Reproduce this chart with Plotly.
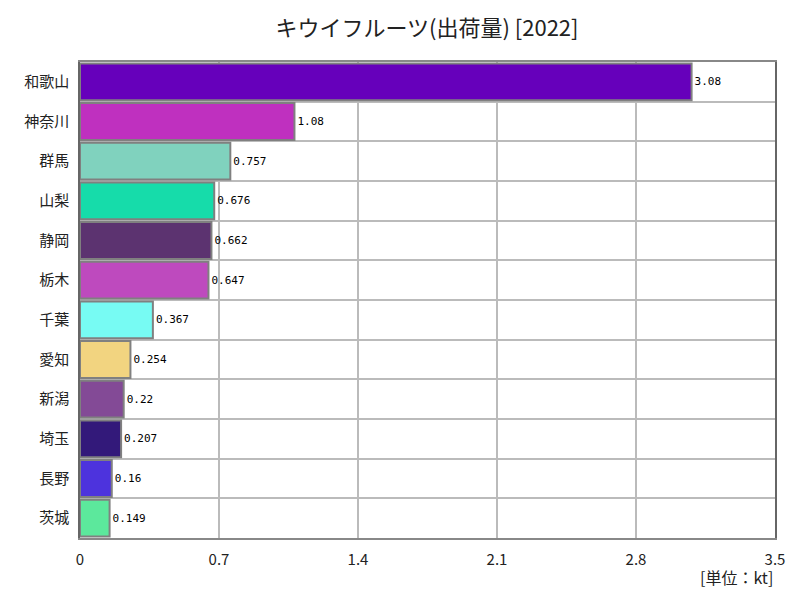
import plotly.graph_objects as go

prefectures = ["和歌山", "神奈川", "群馬", "山梨", "静岡", "栃木", "千葉", "愛知", "新潟", "埼玉", "長野", "茨城"]
values = [3.08, 1.08, 0.757, 0.676, 0.662, 0.647, 0.367, 0.254, 0.22, 0.207, 0.16, 0.149]
labels = ["3.08", "1.08", "0.757", "0.676", "0.662", "0.647", "0.367", "0.254", "0.22", "0.207", "0.16", "0.149"]
colors = ["#6600BB", "#BF30BF", "#80D2BE", "#16DCAA", "#5C3370", "#BE4ABE",
          "#77FBF3", "#F2D480", "#834A96", "#33197A", "#4D33DD", "#5CE89C"]
x_ticks = [0, 0.7, 1.4, 2.1, 2.8, 3.5]
x_ticktext = ["0", "0.7", "1.4", "2.1", "2.8", "3.5"]

fig = go.Figure(go.Bar(
    x=values, y=prefectures, orientation="h",
    marker=dict(color=colors, line=dict(color="#808080", width=2)),
    text=labels, textposition="outside", cliponaxis=False,
    textfont=dict(family="DejaVu Sans Mono", size=11, color="#000"),
))

fig.update_layout(
    width=792, height=592,
    margin=dict(l=72, r=25, t=54, b=62),
    paper_bgcolor="white", plot_bgcolor="white",
    bargap=0.07,
    showlegend=False,
    title=dict(text="キウイフルーツ(出荷量) [2022]", x=0.529, xanchor="center",
               y=0.966, yanchor="middle",
               font=dict(family="Noto Sans CJK JP", size=22, color="#222")),
    xaxis=dict(range=[0, 3.5], tickvals=x_ticks, ticktext=x_ticktext,
               showgrid=True, gridcolor="#BBBBBB", gridwidth=1.5,
               showline=True, linecolor="#888", linewidth=1.5, mirror=True,
               zeroline=False, ticks="", ticklabelstandoff=7,
               tickfont=dict(family="Noto Sans CJK JP", size=15, color="#222")),
    yaxis=dict(type="category", categoryorder="array", categoryarray=prefectures[::-1],
               tickson="boundaries", showgrid=True, gridcolor="#BBBBBB", gridwidth=1.5,
               showline=True, linecolor="#666", linewidth=1.5, mirror=True, ticks="",
               ticklabelstandoff=6,
               tickfont=dict(family="Noto Sans CJK JP", size=15, color="#222")),
    annotations=[dict(text="[単位：kt]", xref="paper", yref="paper", x=1.0, y=-0.082,
                      xanchor="right", yanchor="middle", showarrow=False,
                      font=dict(family="Noto Sans CJK JP", size=16, color="#222"))],
)

fig.write_html("out.html")
